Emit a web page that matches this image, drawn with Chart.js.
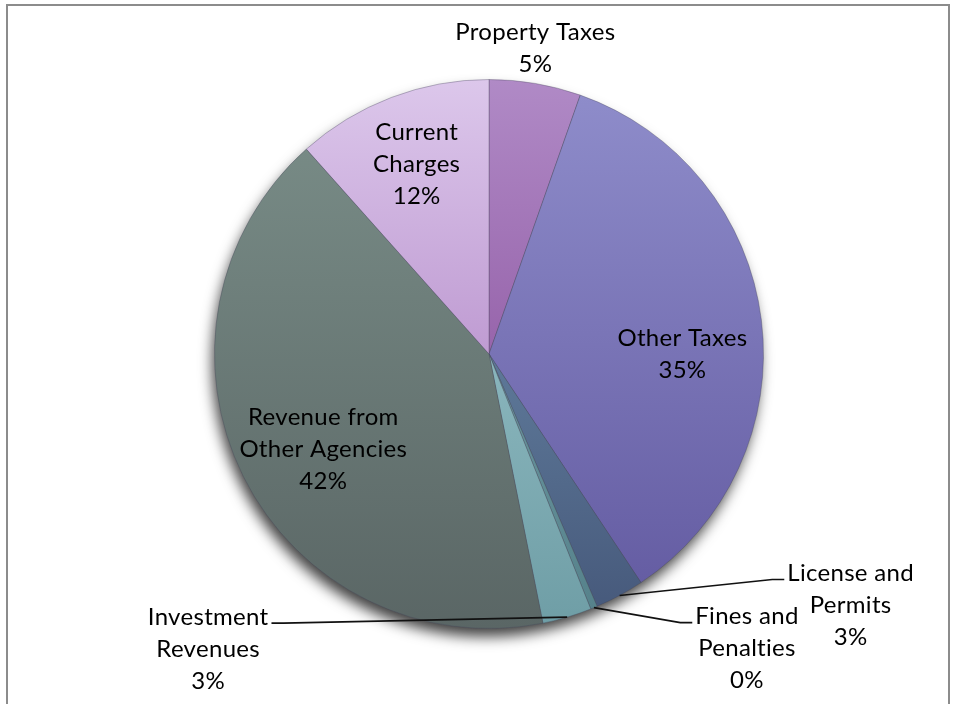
<!DOCTYPE html>
<html>
<head>
<meta charset="utf-8">
<title>Revenue Sources</title>
<script src="https://cdn.jsdelivr.net/npm/chart.js@4/dist/chart.umd.min.js"></script>
<style>
  html, body { margin: 0; padding: 0; background: #fff; }
  #frame {
    position: absolute; left: 6px; top: 4px; width: 944px; height: 720px;
    border: 2px solid #8c8c8c; border-bottom: none; box-sizing: border-box;
  }
  #wrap { position: absolute; left: 0; top: 0; width: 957px; height: 704px; }
</style>
</head>
<body>
<div id="frame"></div>
<div id="wrap"><canvas id="revenueChart"></canvas></div>
<script>
// revenue shares, clockwise from twelve o'clock
const categories = ['Property Taxes', 'Other Taxes', 'License and Permits', 'Fines and Penalties',
                    'Investment Revenues', 'Revenue from Other Agencies', 'Current Charges'];
const shares = [5.4, 35.3, 2.9, 0.4, 2.9, 41.6, 11.6];

// how each category name wraps on the chart
const labelLines = [
    ['Property Taxes'],
    ['Other Taxes'],
    ['License and', 'Permits'],
    ['Fines and', 'Penalties'],
    ['Investment', 'Revenues'],
    ['Revenue from', 'Other Agencies'],
    ['Current', 'Charges']
];

// slice colours: lighter at the top of a slice, darker at the bottom
const topColors    = ['#b08ac6', '#8e8cca', '#5e7999', '#6b96a0', '#8ab6bd', '#778a85', '#dcc7eb'];
const bottomColors = ['#9764ab', '#655da3', '#475a7c', '#56828b', '#6f9ea6', '#5a6665', '#bf9bd2'];

// label placement: inside = along the slice middle, otherwise offset from the rim
const labelPlacement = [
    { inside: false, dx: 0, dy: -51 },
    { inside: true, r: 0.71, dx: 0, dy: 24 },
    { inside: false, dx: 231, dy: -22, leader: true },
    { inside: false, dx: 153, dy: 9, leader: true },
    { inside: false, dx: -359, dy: 0, leader: true },
    { inside: true, r: 0.695, dx: 5, dy: 10 },
    { inside: true, r: 0.74, dx: 0, dy: 0 }
];

const LABEL_FONT = '24px Lato';
const LINE_H = 32;

// drop shadow under the pie + per-slice vertical gradient
const sliceShading = {
    id: 'sliceShading',
    beforeDatasetsDraw(chart) {
        const ctx = chart.ctx;
        const arcs = chart.getDatasetMeta(0).data;
        if (!arcs.length) return;
        const { x, y, outerRadius } = arcs[0];

        ctx.save();
        ctx.shadowColor = 'rgba(0, 0, 0, 0.75)';
        ctx.shadowBlur = 14;
        ctx.shadowOffsetX = -3;
        ctx.shadowOffsetY = 9;
        ctx.fillStyle = '#5f6a69';
        ctx.beginPath();
        ctx.arc(x, y, outerRadius - 1, 0, Math.PI * 2);
        ctx.fill();
        ctx.restore();

        arcs.forEach((arc, i) => {
            const ys = [arc.y,
                        arc.y + Math.sin(arc.startAngle) * arc.outerRadius,
                        arc.y + Math.sin(arc.endAngle) * arc.outerRadius];
            [-Math.PI / 2, Math.PI / 2, Math.PI * 1.5].forEach(a => {
                if (a >= arc.startAngle && a <= arc.endAngle) ys.push(arc.y + Math.sin(a) * arc.outerRadius);
            });
            const g = ctx.createLinearGradient(0, Math.min(...ys), 0, Math.max(...ys) + 1);
            g.addColorStop(0, topColors[i]);
            g.addColorStop(1, bottomColors[i]);
            arc.options.backgroundColor = g;
        });
    }
};

// category + percent labels, with leader lines for the thin slices
const sliceLabels = {
    id: 'sliceLabels',
    afterDatasetsDraw(chart) {
        const ctx = chart.ctx;
        const arcs = chart.getDatasetMeta(0).data;
        const total = shares.reduce((a, b) => a + b, 0);
        ctx.save();
        ctx.font = LABEL_FONT;
        ctx.letterSpacing = '0.3px'; // also keeps "ti" from turning into a ligature
        ctx.fillStyle = '#000';
        ctx.strokeStyle = '#111';
        ctx.lineWidth = 1.6;
        ctx.textAlign = 'center';
        ctx.textBaseline = 'middle';

        arcs.forEach((arc, i) => {
            const lines = labelLines[i].concat(Math.round(shares[i] / total * 100) + '%');
            const p = labelPlacement[i];
            const mid = (arc.startAngle + arc.endAngle) / 2;
            const R = arc.outerRadius;

            if (p.inside) {
                const cx = arc.x + Math.cos(mid) * R * p.r + p.dx;
                const cy = arc.y + Math.sin(mid) * R * p.r + p.dy;
                const y0 = cy - (lines.length - 1) * LINE_H / 2;
                lines.forEach((t, k) => ctx.fillText(t, cx, y0 + k * LINE_H));
                return;
            }

            const ex = arc.x + Math.cos(mid) * R;
            const ey = arc.y + Math.sin(mid) * R;
            const tx = ex + p.dx;
            const ty = ey + p.dy;
            lines.forEach((t, k) => ctx.fillText(t, tx, ty + k * LINE_H));

            if (p.leader) {
                const w = ctx.measureText(lines[0]).width;
                const side = p.dx > 0 ? 1 : -1;
                const endX = tx - side * (w / 2 + 3);
                const ly = ty + 6;
                ctx.beginPath();
                ctx.moveTo(ex, ey);
                ctx.lineTo(endX - side * 12, ly);
                ctx.lineTo(endX, ly);
                ctx.stroke();
            }
        });
        ctx.restore();
    }
};

const ctx = document.getElementById('revenueChart').getContext('2d');
const revenueChart = new Chart(ctx, {
    type: 'pie',
    data: {
        labels: categories,
        datasets: [{
            data: shares,
            backgroundColor: bottomColors,
            borderColor: 'rgba(70, 70, 90, 0.35)',
            borderWidth: 1
        }]
    },
    options: {
        responsive: true,
        maintainAspectRatio: false,
        animation: false,
        layout: {
            padding: { left: 214, right: 193, top: 78, bottom: 74 }
        },
        plugins: {
            legend: { display: false },
            tooltip: { enabled: false }
        }
    },
    plugins: [sliceShading, sliceLabels]
});
</script>
</body>
</html>
